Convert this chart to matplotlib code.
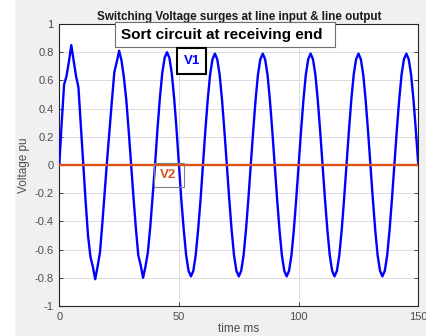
import matplotlib
matplotlib.use("Agg")
import matplotlib.pyplot as plt
import numpy as np
from matplotlib.patches import Rectangle

plt.rcParams["font.family"] = ["Liberation Sans", "DejaVu Sans"]

W, H = 427, 336

# sample times (ms), 1 ms step
t_ms = np.arange(0, 151)

# V1, one row per 10 ms
v1 = [
    0.00, 0.30, 0.57, 0.63, 0.73, 0.85, 0.74, 0.63, 0.55, 0.28,
    0.00, -0.26, -0.50, -0.65, -0.72, -0.81, -0.72, -0.62, -0.41, -0.18,
    0.04, 0.25, 0.46, 0.66, 0.73, 0.81, 0.74, 0.62, 0.46, 0.24,
    0.00, -0.23, -0.45, -0.64, -0.71, -0.80, -0.72, -0.62, -0.44, -0.22,
    0.00, 0.25, 0.47, 0.65, 0.76, 0.80, 0.76, 0.65, 0.47, 0.25,
    0.00, -0.25, -0.46, -0.64, -0.75, -0.79, -0.75, -0.64, -0.46, -0.25,
    0.00, 0.24, 0.46, 0.64, 0.75, 0.79, 0.75, 0.64, 0.46, 0.24,
    0.00, -0.24, -0.46, -0.64, -0.75, -0.79, -0.75, -0.64, -0.46, -0.24,
    0.00, 0.24, 0.46, 0.64, 0.75, 0.79, 0.75, 0.64, 0.46, 0.24,
    0.00, -0.24, -0.46, -0.64, -0.75, -0.79, -0.75, -0.64, -0.46, -0.24,
    0.00, 0.24, 0.46, 0.64, 0.75, 0.79, 0.75, 0.64, 0.46, 0.24,
    0.00, -0.24, -0.46, -0.64, -0.75, -0.79, -0.75, -0.64, -0.46, -0.24,
    0.00, 0.24, 0.46, 0.64, 0.75, 0.79, 0.75, 0.64, 0.46, 0.24,
    0.00, -0.24, -0.46, -0.64, -0.75, -0.79, -0.75, -0.64, -0.46, -0.24,
    0.00, 0.24, 0.46, 0.64, 0.75, 0.79, 0.75, 0.64, 0.46, 0.24,
    0.00,
]
# V2 stays at zero (short circuit at receiving end)
v2_t = [0, 150]
v2 = [0.0, 0.0]

x_ticks = [0, 50, 100, 150]
y_ticks = [-1, -0.8, -0.6, -0.4, -0.2, 0, 0.2, 0.4, 0.6, 0.8, 1]
y_ticklabels = ["-1", "-0.8", "-0.6", "-0.4", "-0.2", "0",
                "0.2", "0.4", "0.6", "0.8", "1"]


def px_box(fig, x0, y0, x1, y1, ec, lw, fc="none", z=6):
    # rectangle given in pixel coords measured from the top-left corner
    fig.patches.append(Rectangle((x0 / W, 1 - y1 / H), (x1 - x0) / W,
                                 (y1 - y0) / H, transform=fig.transFigure,
                                 fc=fc, ec=ec, lw=lw, zorder=z))


fig = plt.figure(figsize=(W / 100, H / 100), dpi=100, facecolor="#f0f0f0")
fig.patches.append(Rectangle((0, 0), 14 / W, 1, transform=fig.transFigure,
                             color="white", zorder=0))
ax = fig.add_axes([59.3 / W, 30 / H, 359 / W, 282 / H])

ax.plot(t_ms, v1, color="#0000ff", lw=1.7, zorder=3)
ax.plot(v2_t, v2, color="#d95319", lw=1.7, zorder=4)

ax.set_xlim(0, 150)
ax.set_ylim(-1, 1)
ax.set_xticks(x_ticks)
ax.set_yticks(y_ticks)
ax.set_yticklabels(y_ticklabels)
ax.grid(True, color="#dcdcdc", lw=0.7)
ax.set_axisbelow(True)
ax.tick_params(direction="in", length=3, width=0.6, labelsize=8,
               colors="#262626", labelcolor="#4d4d4d", top=True, right=True,
               pad=4)
for s in ax.spines.values():
    s.set_color("#262626")
    s.set_linewidth(0.8)

ax.set_xlabel("time ms", fontsize=8.5, color="#4d4d4d", labelpad=1)
ax.set_ylabel("Voltage pu", fontsize=8.5, color="#4d4d4d", labelpad=3)
ax.set_title("Switching Voltage surges at line input & line output",
             fontsize=8.4, fontweight="bold", color="#1a1a1a", pad=3)

# annotation boxes (MATLAB textboxes)
px_box(fig, 115, 21.7, 335, 46.7, ec="#707070", lw=0.8, fc="white")
fig.text(120.7 / W, 1 - 35 / H, "Sort circuit at receiving end",
         fontsize=11, fontweight="bold", color="black",
         ha="left", va="center", zorder=7)

px_box(fig, 177.3, 48.3, 206, 74.3, ec="black", lw=1.5, fc="white")
fig.text(191.7 / W, 1 - 61.5 / H, "V1", fontsize=9.5, fontweight="bold",
         color="#0000ff", ha="center", va="center", zorder=7)

px_box(fig, 154, 163.3, 184, 187.3, ec="#808080", lw=0.8)
fig.text(168.5 / W, 1 - 175.5 / H, "V2", fontsize=9.5, fontweight="bold",
         color="#d95319", ha="center", va="center", zorder=7)

fig.savefig("out.png", dpi=100, facecolor=fig.get_facecolor())
